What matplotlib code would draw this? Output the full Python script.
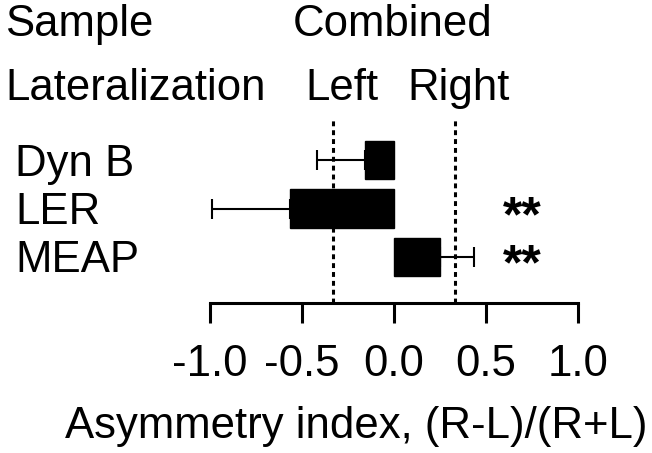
import matplotlib
matplotlib.use("Agg")
import matplotlib.pyplot as plt
from matplotlib.transforms import blended_transform_factory

plt.rcParams['font.family'] = ['Liberation Sans', 'DejaVu Sans']

categories = ["Dyn B", "LER", "MEAP"]
values = [-0.16, -0.565, 0.25]
err_lower = [0.26, 0.425, 0.0]
err_upper = [0.0, 0.0, 0.185]
significance = ["", "**", "**"]
threshold = 1 / 3
xticks = [-1.0, -0.5, 0.0, 0.5, 1.0]
xticklabels = ["-1.0", "-0.5", "0.0", "0.5", "1.0"]

FS = 31.5
W, H = 652, 453

fig = plt.figure(figsize=(W / 100, H / 100), dpi=100)
ax = fig.add_axes([210 / W, 1 - 303 / H, 368 / W, 184 / H])

ypos = list(range(len(categories)))
ax.errorbar(values, ypos, xerr=[err_lower, err_upper], fmt='none',
            ecolor='black', elinewidth=1.5, capsize=7.5, capthick=1.5,
            zorder=2, clip_on=False)
ax.barh(ypos, values, height=0.79, color='black', edgecolor='black', zorder=3)

for xv in (-threshold, threshold):
    ax.axvline(xv, color='black', lw=2.2, linestyle=(0, (1.6, 1.3)), zorder=1,
               clip_on=False)

ax.set_xlim(-1.0, 1.0)
ax.set_ylim(2.95, -0.85)
ax.set_xticks(xticks)
ax.set_xticklabels(xticklabels, fontsize=FS)
ax.tick_params(axis='x', direction='out', length=14.5, width=2.2, pad=15)
ax.set_yticks([])
for s in ('top', 'right', 'left'):
    ax.spines[s].set_visible(False)
ax.spines['bottom'].set_linewidth(2.2)

trans = blended_transform_factory(fig.transFigure, ax.transData)
for i, c in enumerate(categories):
    ax.text(15 / W, i + 0.32, c, transform=trans, fontsize=FS,
            ha='left', va='baseline')

for i, s in enumerate(significance):
    if s:
        ax.text(0.592, i + 0.2, s, fontsize=36, ha='left', va='center',
                fontweight='bold')

fig.text(5 / W, 1 - 36 / H, "Sample", fontsize=FS, ha='left', va='baseline')
fig.text(293 / W, 1 - 36 / H, "Combined", fontsize=FS, ha='left', va='baseline')
fig.text(5 / W, 1 - 100 / H, "Lateralization", fontsize=FS, ha='left', va='baseline')
fig.text(305 / W, 1 - 100 / H, "Left", fontsize=FS, ha='left', va='baseline')
fig.text(407 / W, 1 - 100 / H, "Right", fontsize=FS, ha='left', va='baseline')
fig.text(65 / W, 1 - 438 / H, "Asymmetry index, (R-L)/(R+L)", fontsize=FS,
         ha='left', va='baseline')

fig.savefig("out.png", dpi=100)
